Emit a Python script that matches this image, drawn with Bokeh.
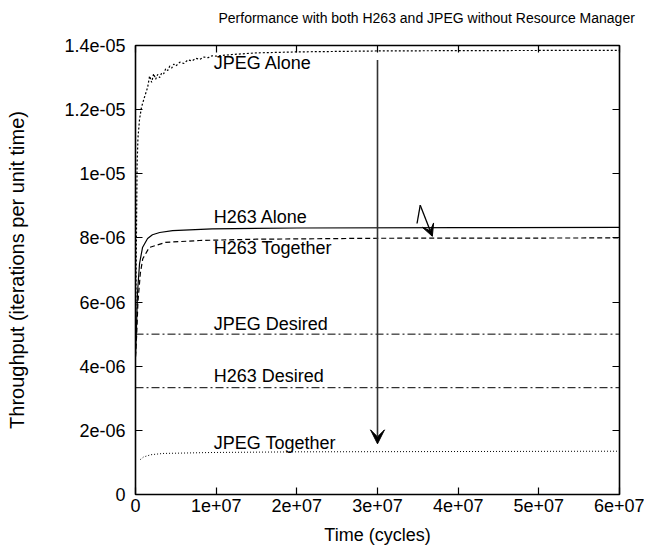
from bokeh.plotting import figure
from bokeh.models import (FixedTicker, CustomJSTickFormatter, LinearAxis, Range1d,
                          Arrow, VeeHead, ColumnDataSource, Title)
from bokeh.embed import file_html
from bokeh.resources import INLINE
from bokeh.core.properties import value

FONT = "Liberation Sans"
FS = "18px"

# ---- data ----
title_text = "Performance with both H263 and JPEG without Resource Manager"

jpeg_alone_t = [0, 0.05e6, 0.1e6, 0.15e6, 0.2e6, 0.3e6, 0.5e6, 0.74e6, 1.1e6, 1.5e6,
                1.75e6, 2.0e6, 2.25e6, 2.5e6, 2.75e6, 3.0e6, 3.25e6, 3.5e6, 3.75e6, 4.0e6,
                4.25e6, 4.5e6, 4.75e6, 5.0e6, 5.5e6, 6.0e6, 6.5e6, 7.0e6, 7.5e6, 8.0e6,
                8.5e6, 9.0e6, 9.5e6, 1.0e7, 1.2e7, 1.5e7, 2.0e7, 3.0e7, 4.0e7, 6.0e7]
jpeg_alone_v = [4.4e-6, 6.0e-6, 7.6e-6, 9.0e-6, 10.3e-6, 11.1e-6, 11.7e-6, 12.07e-6, 12.38e-6, 12.69e-6,
                13.05e-6, 12.85e-6, 13.12e-6, 12.95e-6, 13.10e-6, 13.00e-6, 13.15e-6, 13.12e-6, 13.28e-6, 13.22e-6,
                13.36e-6, 13.30e-6, 13.42e-6, 13.36e-6, 13.48e-6, 13.44e-6, 13.55e-6, 13.52e-6, 13.60e-6, 13.57e-6,
                13.64e-6, 13.62e-6, 13.68e-6, 13.67e-6, 13.72e-6, 13.77e-6, 13.80e-6, 13.83e-6, 13.84e-6, 13.85e-6]

h263_alone_t = [0, 0.12e6, 0.25e6, 0.5e6, 0.87e6, 1.5e6, 2.1e6, 3.0e6, 4.6e6, 9.5e6, 2.0e7, 4.0e7, 6.0e7]
h263_alone_v = [4.3e-6, 5.2e-6, 6.3e-6, 7.2e-6, 7.7e-6, 7.98e-6, 8.1e-6, 8.17e-6, 8.23e-6, 8.28e-6, 8.31e-6, 8.32e-6, 8.33e-6]

h263_tog_t = [0, 0.15e6, 0.3e6, 0.6e6, 0.9e6, 1.7e6, 3.7e6, 7.9e6, 1.5e7, 3.0e7, 6.0e7]
h263_tog_v = [4.3e-6, 5.0e-6, 6.0e-6, 6.9e-6, 7.35e-6, 7.7e-6, 7.86e-6, 7.92e-6, 7.96e-6, 7.99e-6, 8.0e-6]

jpeg_tog_t = [0.6e6, 1.0e6, 1.9e6, 3.4e6, 9.5e6, 2.0e7, 4.0e7, 6.0e7]
jpeg_tog_v = [1.09e-6, 1.17e-6, 1.24e-6, 1.28e-6, 1.31e-6, 1.33e-6, 1.34e-6, 1.35e-6]

desired_t = [0, 6.0e7]
jpeg_desired = 5.0e-6
h263_desired = 3.33e-6

label_text = ["JPEG Alone", "H263 Alone", "H263 Together", "JPEG Desired", "H263 Desired", "JPEG Together"]
label_x = [9.7e6, 9.7e6, 9.7e6, 9.7e6, 9.7e6, 9.7e6]
label_y = [13.44e-6, 8.64e-6, 7.70e-6, 5.33e-6, 3.68e-6, 1.62e-6]

# vertical arrow
varrow_x = [3.0e7, 3.0e7]
varrow_y = [13.55e-6, 1.58e-6]
# zigzag arrow
zz_x = [3.49e7, 3.53e7, 3.68e7]
zz_y = [8.45e-6, 9.02e-6, 8.05e-6]

x_ticks = [0, 1e7, 2e7, 3e7, 4e7, 5e7, 6e7]
x_labels = ["0", "1e+07", "2e+07", "3e+07", "4e+07", "5e+07", "6e+07"]
y_ticks = [0, 2e-6, 4e-6, 6e-6, 8e-6, 1e-5, 1.2e-5, 1.4e-5]
y_labels = ["0", "2e-06", "4e-06", "6e-06", "8e-06", "1e-05", "1.2e-05", "1.4e-05"]

# ---- figure ----
p = figure(width=644, height=550, output_backend="svg", toolbar_location=None,
           x_range=Range1d(0, 6e7), y_range=Range1d(0, 1.4e-5),
           min_border_left=135, min_border_right=25, min_border_top=45, min_border_bottom=56)
p.grid.visible = False
p.background_fill_color = "white"
p.border_fill_color = "white"
p.outline_line_color = "black"
p.outline_line_width = 1.6

fmt_code = ("let i=0,b=1e99; for (let k=0;k<t.length;k++){const d=Math.abs(t[k]-tick);"
            " if(d<b){b=d;i=k}} return l[i];")

for ax, ticks, labels in ((p.xaxis[0], x_ticks, x_labels), (p.yaxis[0], y_ticks, y_labels)):
    ax.ticker = FixedTicker(ticks=ticks)
    ax.formatter = CustomJSTickFormatter(args=dict(t=ticks, l=labels), code=fmt_code)
    ax.major_tick_in = 7
    ax.major_tick_out = 0
    ax.minor_tick_in = 0
    ax.minor_tick_out = 0
    ax.axis_line_color = None
    ax.major_tick_line_color = "black"
    ax.major_tick_line_width = 1.2
    ax.major_label_text_font = FONT
    ax.major_label_text_font_size = FS
    ax.major_label_text_color = "black"
    ax.axis_label_text_font = FONT
    ax.axis_label_text_font_size = FS
    ax.axis_label_text_font_style = "normal"
    ax.axis_label_text_color = "black"

p.xaxis[0].axis_label = "Time (cycles)"
p.xaxis[0].major_label_standoff = 4
p.xaxis[0].axis_label_standoff = 10
p.yaxis[0].axis_label = "Throughput (iterations per unit time)"
p.yaxis[0].axis_label_text_font_size = "20px"
p.yaxis[0].major_label_standoff = 10
p.yaxis[0].axis_label_standoff = 33

# mirrored tick marks on the right and top (no labels)
for loc, ticks in (("right", y_ticks), ("above", x_ticks)):
    p.add_layout(LinearAxis(ticker=FixedTicker(ticks=ticks),
                            formatter=CustomJSTickFormatter(code="return '';"),
                            major_tick_in=7, major_tick_out=0, minor_tick_in=0, minor_tick_out=0,
                            axis_line_color=None, major_tick_line_color="black",
                            major_tick_line_width=1.2, major_label_standoff=0,
                            major_label_text_font_size="1px"), loc)

# title: a trailing blank line lifts the text higher above the frame
p.add_layout(Title(text=title_text + "\n", align="left", offset=83, text_font=FONT,
                   text_font_size="14px", text_font_style="normal", text_color="black",
                   standoff=8, vertical_align="bottom"), "above")

# ---- curves ----
p.line(desired_t, [jpeg_desired, jpeg_desired], line_color="black", line_width=1.0, line_dash="8 3 2 3")
p.line(desired_t, [h263_desired, h263_desired], line_color="black", line_width=1.0, line_dash="8 3 2 3")
p.line(jpeg_tog_t, jpeg_tog_v, line_color="black", line_width=1.0, line_dash="1 2")
p.line(h263_tog_t, h263_tog_v, line_color="black", line_width=1.2, line_dash="5 3")
p.line(h263_alone_t, h263_alone_v, line_color="black", line_width=1.2)
p.line(jpeg_alone_t, jpeg_alone_v, line_color="black", line_width=1.2, line_dash="2 2")

# ---- labels ----
src = ColumnDataSource(dict(x=label_x, y=label_y, text=label_text))
p.text(x="x", y="y", text="text", source=src, text_font=value(FONT), text_font_size=FS,
       text_align="left", text_baseline="middle", text_color="black")

# ---- arrows ----
p.add_layout(Arrow(x_start=varrow_x[0], y_start=varrow_y[0], x_end=varrow_x[1], y_end=varrow_y[1],
                   line_color="#333333", line_width=1.6,
                   end=VeeHead(size=14, fill_color="black", line_color="black")))
p.line(zz_x[:2], zz_y[:2], line_color="black", line_width=1.3)
p.add_layout(Arrow(x_start=zz_x[1], y_start=zz_y[1], x_end=zz_x[2], y_end=zz_y[2],
                   line_color="black", line_width=1.3,
                   end=VeeHead(size=12, fill_color="black", line_color="black")))

open("out.html", "w").write(file_html(p, INLINE))
